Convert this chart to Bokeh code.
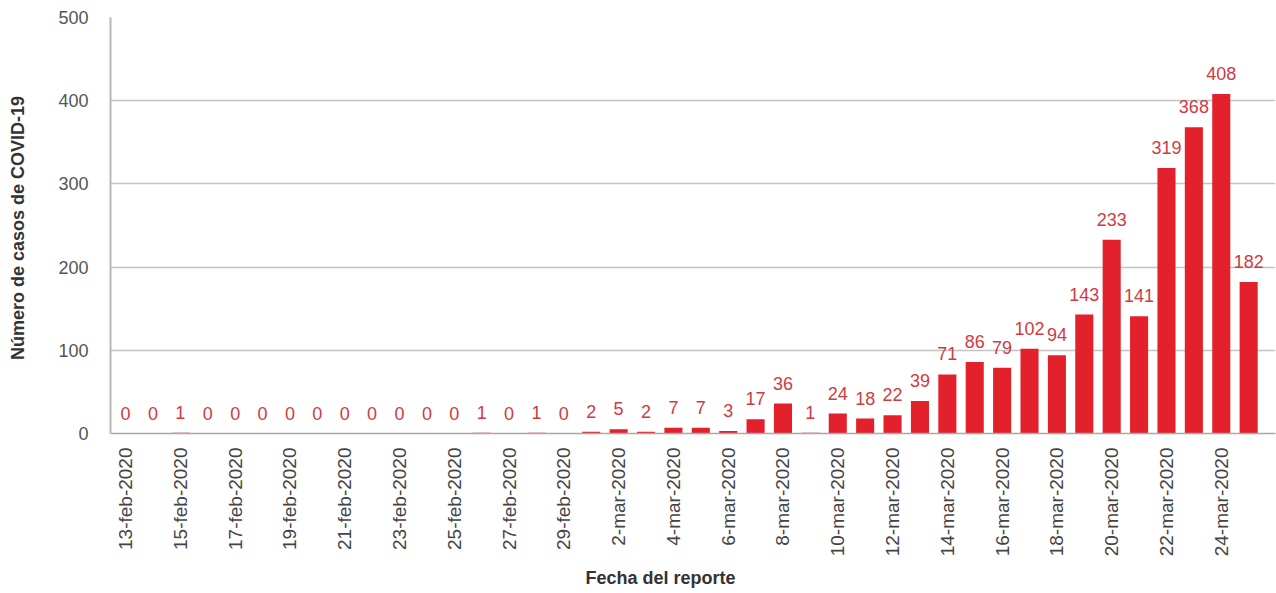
import math
from bokeh.plotting import figure
from bokeh.models import ColumnDataSource, FixedTicker, Range1d, Title
from bokeh.core.properties import value
from bokeh.embed import file_html
from bokeh.resources import INLINE

# ---- data ----
feb_days = list(range(13, 30))
mar_days = list(range(1, 26))
dates = [f"{d}-feb-2020" for d in feb_days] + [f"{d}-mar-2020" for d in mar_days]
cases = [0, 0, 1, 0, 0, 0, 0, 0, 0, 0, 0, 0, 0, 1, 0, 1, 0,
         2, 5, 2, 7, 7, 3, 17, 36, 1, 24, 18, 22, 39, 71, 86, 79, 102, 94,
         143, 233, 141, 319, 368, 408, 182]
y_ticks = [0, 100, 200, 300, 400, 500]

idx = list(range(len(dates)))
src = ColumnDataSource(dict(x=idx, y=cases, lab=[str(c) for c in cases]))

FONT = "Liberation Sans"
p = figure(width=1276, height=593, output_backend="svg", toolbar_location=None,
           x_range=Range1d(-0.55, 41.98), y_range=Range1d(0, 500),
           min_border_left=110, min_border_right=1, min_border_top=17,
           min_border_bottom=160, background_fill_color="white",
           border_fill_color="white")
p.outline_line_color = None

p.vbar(x="x", top="y", width=0.66, source=src, fill_color="#e3212d",
       line_color=None)
p.text(x="x", y="y", text="lab", source=src, text_align="center",
       text_baseline="bottom", y_offset=-14, text_color="#d13a43",
       text_font=value(FONT), text_font_size=value("18px"))

# grid
p.xgrid.grid_line_color = None
p.ygrid.grid_line_color = "#c4c4c4"
p.ygrid.grid_line_width = 1.3
p.ygrid.ticker = FixedTicker(ticks=y_ticks)

# y axis
ya = p.yaxis[0]
ya.ticker = FixedTicker(ticks=y_ticks)
ya.axis_line_color = "#b8b8b8"
ya.axis_line_width = 2
ya.major_tick_line_color = None
ya.minor_tick_line_color = None
ya.major_label_standoff = 16
ya.major_label_text_font = FONT
ya.major_label_text_font_size = "18px"
ya.major_label_text_color = "#555555"
ya.axis_label = "Número  de casos de COVID-19"
ya.axis_label_text_font = FONT
ya.axis_label_text_font_size = "18px"
ya.axis_label_text_font_style = "bold"
ya.axis_label_text_color = "#333333"
ya.axis_label_standoff = 27

# x axis
xa = p.xaxis[0]
tick_idx = idx[::2]
xa.ticker = FixedTicker(ticks=tick_idx)
xa.major_label_overrides = {i: dates[i] for i in tick_idx}
xa.major_label_orientation = math.pi / 2
xa.axis_line_color = "#a8a8a8"
xa.axis_line_width = 1.5
xa.major_tick_line_color = None
xa.minor_tick_line_color = None
xa.major_label_standoff = 8
xa.major_label_text_font = FONT
xa.major_label_text_font_size = "19px"
xa.major_label_text_color = "#444444"

p.add_layout(Title(text="Fecha del reporte", align="left", offset=475,
                   text_font=FONT, text_font_size="18px",
                   text_font_style="bold", text_color="#333333",
                   standoff=12), "below")

open("out.html", "w").write(file_html(p, INLINE))
